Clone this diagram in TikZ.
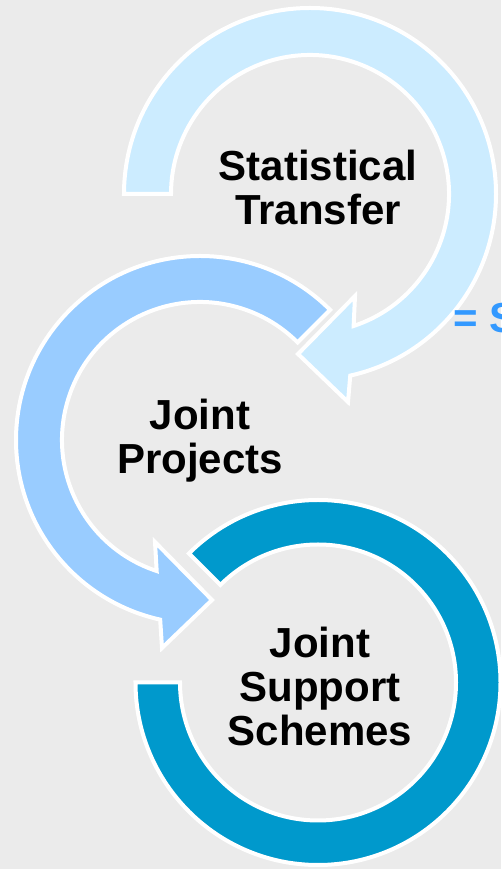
\documentclass[tikz,border=0pt]{standalone}
\usepackage{fontspec}
\setmainfont{Liberation Sans}
\usepackage{xcolor}
\definecolor{bgGray}{HTML}{EBEBEB}
\definecolor{transferBlue}{HTML}{CCECFF}
\definecolor{projectsBlue}{HTML}{99CCFF}
\definecolor{schemesBlue}{HTML}{0099CC}
\definecolor{sumBlue}{HTML}{3399FF}
\tikzset{
  ring/.style={draw=white, line width=4pt, line join=miter},
  ringtext/.style={font=\fontsize{42}{44}\selectfont\bfseries, align=center, inner sep=0pt}
}

\begin{document}
\begin{tikzpicture}[x=1pt,y=1pt]
		\fill[bgGray] (0,0) rectangle (501,869);
		\useasboundingbox (0,0) rectangle (501,869);
		\coordinate (transfer) at (310,675);
		\coordinate (projects) at (200,429);
		\coordinate (schemes) at (318,186.5);
		\filldraw[ring, fill=transferBlue, shift={(transfer)}] (180:186) arc[start angle=180, end angle=-77.5, radius=186] -- (38,-208) -- (-12,-160) -- (45,-102) -- (-71.7:139) arc[start angle=-71.7, end angle=180, radius=139] -- cycle;
		\filldraw[ring, fill=projectsBlue, shift={(projects)}] (45:184) arc[start angle=45, end angle=257.5, radius=184] -- (-38,-208) -- (12,-160) -- (-45,-102) -- (251.7:138) arc[start angle=251.7, end angle=45, radius=138] -- cycle;
		\filldraw[ring, fill=schemesBlue, shift={(schemes)}] (180:182.5) arc[start angle=180, end angle=495, radius=182.5] -- (495:138) arc[start angle=495, end angle=180, radius=138] -- cycle;
		\node[ringtext] (transfertext) at (318,682) {Statistical\\Transfer};
		\node[ringtext] (projectstext) at (200,428) {Joint\\Projects};
		\node[ringtext] (schemestext) at (320,183) {Joint\\Support\\Schemes};
		\node[ringtext, text=sumBlue, anchor=base west] (sumtext) at (453,536) {= S};
		\end{tikzpicture}
\end{document}
